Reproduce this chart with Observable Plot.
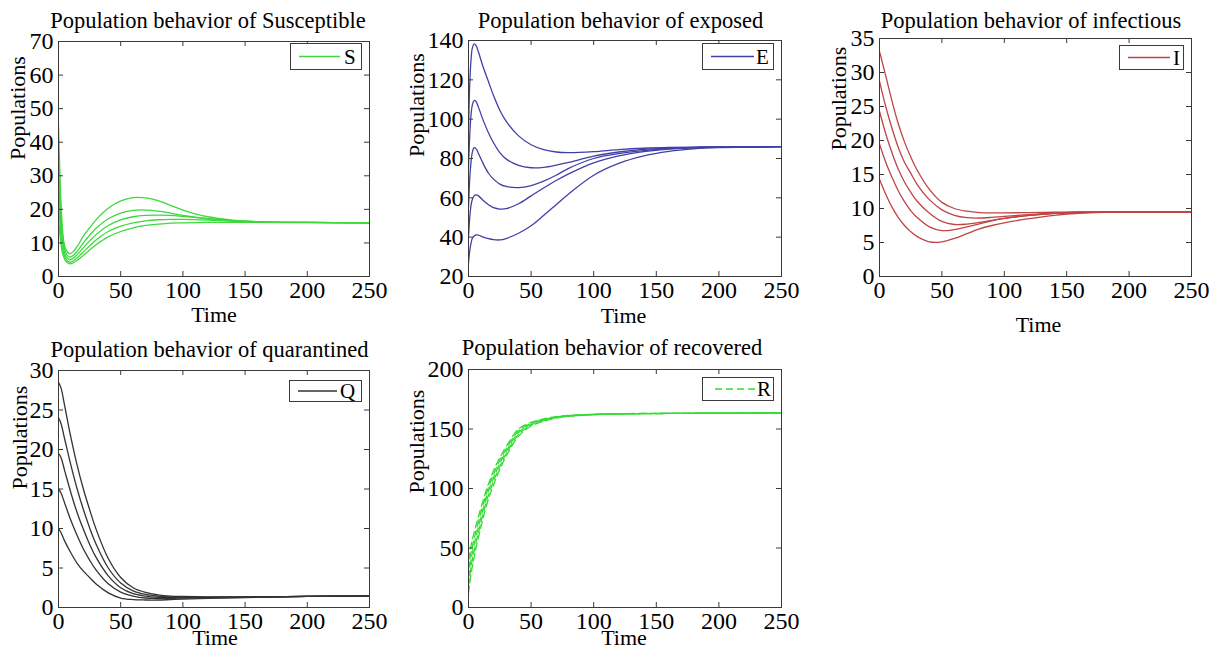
<!DOCTYPE html>
<html><head><meta charset="utf-8">
<script src="https://cdn.jsdelivr.net/npm/d3@7"></script>
<script src="https://cdn.jsdelivr.net/npm/@observablehq/plot@0.6"></script>
<style>
body{margin:0;background:#fff;}
#root{position:relative;width:1221px;height:648px;overflow:hidden;font-family:"Liberation Serif","Times New Roman",serif;}
.panel{position:absolute;}
.legend{position:absolute;}
</style></head><body><div id="root"></div>
<script>
// ---------- data ----------
const timeTicks = [0, 50, 100, 150, 200, 250];

// Susceptible
const tS = [0,1,2,4,6,9,12,16,20,25,30,40,50,60,70,80,90,100,120,140,160,200,250];
const S1 = [45,32,22,11,8,6.8,7.5,9.5,12,14.5,16.8,20.3,22.5,23.5,23.4,22.6,21.2,19.8,17.8,16.8,16.3,16.1,16];
const S2 = [38,27,19,10,7,5.8,6.3,8,10,12.3,14.3,17.2,18.9,19.7,19.8,19.5,18.9,18.2,17.2,16.6,16.3,16.1,16];
const S3 = [31,22,15,8.5,6,5.0,5.5,6.9,8.6,10.6,12.4,15.2,16.9,17.8,18.2,18.3,18.2,17.9,17.2,16.6,16.3,16.1,16];
const S4 = [24,17,12,7,5.2,4.3,4.7,5.9,7.3,9.1,10.8,13.4,15.0,16.0,16.6,16.9,17.0,17.0,16.8,16.5,16.3,16.1,16];
const S5 = [18,13,9.5,6,4.5,3.8,4.1,5.1,6.3,7.9,9.4,11.8,13.4,14.5,15.2,15.6,15.9,16.0,16.1,16.1,16.1,16.05,16];
const yTicksS = [0,10,20,30,40,50,60,70];

// Exposed
const tE = [0,1,2,3,4.5,6,8,12,16,20,25,30,40,50,60,70,80,100,120,140,160,180,200,250];
const E1 = [95,118,130,136,138.3,137.5,134,126,119,112,104.5,99,91.5,87,84.5,83.3,83,83.5,84.5,85.2,85.6,85.8,85.9,86];
const E2 = [75,92,102,107,109.5,109,106,99,93,88,83,79.8,76.5,75.3,75.5,76.6,78,81.2,83.3,84.6,85.3,85.7,85.9,86];
const E3 = [55,70,78,83,85.5,85,82.5,77,72.5,69.5,67,65.8,65.2,66.2,68.5,71.5,75,80,82.5,84,85,85.5,85.8,86];
const E4 = [40,50,56,59,61,61.5,61,58.5,56.5,55,54.3,54.5,57,61,65,68.8,72.2,77.8,81.3,83.5,84.8,85.4,85.8,86];
const E5 = [27,33,37,39.3,40.6,41.1,41,40,39.2,38.7,38.6,39.3,42,45.8,51,56.5,62,71.5,77.5,81.3,83.6,84.9,85.5,86];
const yTicksE = [20,40,60,80,100,120,140];

// Infectious
const tI = [0,5,10,15,20,25,30,40,50,60,70,80,90,100,120,140,160,200,250];
const I1 = [33.1,29.5,25.8,22.5,19.8,17.6,15.7,12.8,10.9,10,9.6,9.4,9.35,9.35,9.4,9.45,9.5,9.5,9.5];
const I2 = [28.7,25,21.8,19,16.8,15.2,13.6,11.3,9.8,9.0,8.65,8.6,8.7,8.85,9.1,9.3,9.4,9.5,9.5];
const I3 = [24.3,21,18.2,15.8,13.9,12.4,11.1,9.3,8.1,7.65,7.7,7.95,8.25,8.55,9.0,9.3,9.45,9.5,9.5];
const I4 = [19.5,16.8,14.6,12.6,11,9.7,8.7,7.3,6.75,6.9,7.3,7.75,8.2,8.55,9.0,9.3,9.45,9.5,9.5];
const I5 = [14.3,12.1,10.2,8.7,7.5,6.6,5.9,5.1,5.1,5.6,6.3,7.0,7.5,7.9,8.5,9.0,9.3,9.5,9.5];
const yTicksI = [0,5,10,15,20,25,30,35];

// Quarantined
const tQ = [0,2,5,10,15,20,25,30,40,50,60,70,80,90,100,120,150,200,250];
const Q1 = [28.5,27.8,25.5,21.5,18,15,12.4,10,6.2,3.8,2.5,1.9,1.6,1.45,1.4,1.35,1.35,1.4,1.45];
const Q2 = [24,23.3,21.3,18,15,12.4,10.1,8.1,5,3.1,2.1,1.65,1.45,1.35,1.3,1.3,1.3,1.4,1.45];
const Q3 = [19.5,19,17.3,14.5,12,9.9,8,6.4,4,2.5,1.75,1.45,1.3,1.25,1.25,1.25,1.3,1.4,1.45];
const Q4 = [15,14.5,13.2,11,9.1,7.4,6,4.8,3.0,1.95,1.45,1.2,1.15,1.15,1.2,1.25,1.3,1.4,1.45];
const Q5 = [10,9.5,8.4,6.9,5.6,4.6,3.8,3.0,1.85,1.2,1.0,0.95,0.95,1.0,1.05,1.15,1.25,1.4,1.45];
const yTicksQ = [0,5,10,15,20,25,30];

// Recovered
const tR = [0,2,5,10,15,20,25,30,40,50,60,70,80,100,120,150,200,250];
const R1 = [12,28,45,68,88,103,116,127,144,152.5,156.5,159.2,160.7,162,162.6,163,163.3,163.5];
const R2 = [18,34,50,72,91.5,106,118.5,129,145.5,153.3,157,159.5,160.8,162.1,162.6,163,163.3,163.5];
const R3 = [25,40,55,76,95,109,121,131,147,154,157.5,159.8,161,162.2,162.7,163,163.3,163.5];
const R4 = [32,46,60,80,98,112,123.5,133,148.5,154.7,158,160.1,161.2,162.3,162.8,163.1,163.3,163.5];
const R5 = [40,52,65,84,101,115,126,135,150,155.5,158.5,160.4,161.4,162.4,162.9,163.1,163.4,163.5];
const yTicksR = [0,50,100,150,200];

// ---------- layout / styling ----------
const FONT = "Liberation Serif";
const AXIS = "#3a3a3a";
const panels = [
  {letter:"S", title:"Population behavior of Susceptible", color:"#3cd83c", dash:null,
   times:tS, series:[S1,S2,S3,S4,S5], yDomain:[0,70], yTicks:yTicksS,
   left:0, top:0, width:400, height:330, mt:41, mr:31, mb:54, ml:58,
   titleDx:-6, titleDy:-14, timeDx:0, timeDy:45, popDx:-41, popDy:1,
   lg:{left:290, top:43, width:72, height:27, x1:9, x2:50, tx:54}},
  {letter:"E", title:"Population behavior of exposed", color:"#4040a8", dash:null,
   times:tE, series:[E1,E2,E3,E4,E5], yDomain:[20,140], yTicks:yTicksE,
   left:405, top:0, width:400, height:330, mt:40, mr:24, mb:54, ml:63,
   titleDx:-4.5, titleDy:-13, timeDx:-1.5, timeDy:46, popDx:-51.5, popDy:-1.5,
   lg:{left:702, top:43, width:72, height:27, x1:9, x2:52, tx:54}},
  {letter:"I", title:"Population behavior of infectious", color:"#c04444", dash:null,
   times:tI, series:[I1,I2,I3,I4,I5], yDomain:[0,35], yTicks:yTicksI,
   left:815, top:0, width:406, height:340, mt:38, mr:30, mb:64, ml:64,
   titleDx:-4.5, titleDy:-11, timeDx:3, timeDy:55, popDx:-41, popDy:-7,
   lg:{left:1119, top:45, width:65, height:25, x1:9, x2:51, tx:54}},
  {letter:"Q", title:"Population behavior of quarantined", color:"#333333", dash:null,
   times:tQ, series:[Q1,Q2,Q3,Q4,Q5], yDomain:[0,30], yTicks:yTicksQ,
   left:0, top:330, width:400, height:318, mt:40, mr:31, mb:41, ml:58,
   titleDx:-4.5, titleDy:-14, timeDx:1, timeDy:37, popDx:-39, popDy:0.5,
   lg:{left:289, top:380, width:73, height:22, x1:9, x2:48, tx:51}},
  {letter:"R", title:"Population behavior of recovered", color:"#33dd33", dash:"7,4",
   times:tR, series:[R1,R2,R3,R4,R5], yDomain:[0,200], yTicks:yTicksR,
   left:405, top:330, width:400, height:318, mt:39, mr:24, mb:41, ml:63,
   titleDx:-13, titleDy:-15, timeDx:-1, timeDy:37, popDx:-52, popDy:5,
   lg:{left:702, top:377, width:72, height:24, x1:13, x2:53, tx:55}}
];

const root = document.getElementById("root");

for (const p of panels) {
  const rows = p.series.flatMap((vals, k) => p.times.map((t, i) => ({t, v: vals[i], run: k})));
  const innerW = p.width - p.ml - p.mr;
  const innerH = p.height - p.mt - p.mb;
  const chart = Plot.plot({
    width: p.width, height: p.height,
    marginTop: p.mt, marginRight: p.mr, marginBottom: p.mb, marginLeft: p.ml,
    x: {domain: [0, 250]},
    y: {domain: p.yDomain},
    style: {fontFamily: FONT, background: "transparent", color: "#000", overflow: "visible"},
    marks: [
      Plot.line(rows, {x: "t", y: "v", z: "run", stroke: p.color, strokeWidth: 1.3,
        curve: "catmull-rom", strokeDasharray: p.dash, clip: true}),
      Plot.frame({stroke: AXIS, strokeWidth: 1}),
      Plot.tickX(timeTicks, {x: d => d, insetTop: innerH - 5, stroke: AXIS}),
      Plot.tickX(timeTicks, {x: d => d, insetBottom: innerH - 5, stroke: AXIS}),
      Plot.tickY(p.yTicks, {y: d => d, insetRight: innerW - 5, stroke: AXIS}),
      Plot.tickY(p.yTicks, {y: d => d, insetLeft: innerW - 5, stroke: AXIS}),
      Plot.axisX(timeTicks, {anchor: "bottom", tickSize: 0, tickPadding: 4, fontSize: 24, label: null}),
      Plot.axisY(p.yTicks, {anchor: "left", tickSize: 0, tickPadding: 5, fontSize: 24, label: null}),
      Plot.text([p.title], {frameAnchor: "top", dx: p.titleDx, dy: p.titleDy, lineAnchor: "bottom", fontSize: 22.5}),
      Plot.text(["Time"], {frameAnchor: "bottom", dx: p.timeDx, dy: p.timeDy, lineAnchor: "bottom", fontSize: 22}),
      Plot.text(["Populations"], {frameAnchor: "left", rotate: -90, dx: p.popDx, dy: p.popDy, fontSize: 22})
    ]
  });
  const wrap = document.createElement("div");
  wrap.className = "panel";
  wrap.style.left = p.left + "px";
  wrap.style.top = p.top + "px";
  wrap.appendChild(chart);
  root.appendChild(wrap);

  // legend box (MATLAB style)
  const lg = p.lg;
  const ns = "http://www.w3.org/2000/svg";
  const svg = document.createElementNS(ns, "svg");
  svg.setAttribute("width", lg.width);
  svg.setAttribute("height", lg.height);
  svg.setAttribute("class", "legend");
  svg.style.left = lg.left + "px";
  svg.style.top = lg.top + "px";
  const box = document.createElementNS(ns, "rect");
  box.setAttribute("x", 0.5); box.setAttribute("y", 0.5);
  box.setAttribute("width", lg.width - 1); box.setAttribute("height", lg.height - 1);
  box.setAttribute("fill", "#fff"); box.setAttribute("stroke", AXIS);
  svg.appendChild(box);
  const ln = document.createElementNS(ns, "line");
  ln.setAttribute("x1", lg.x1); ln.setAttribute("x2", lg.x2);
  ln.setAttribute("y1", lg.height / 2); ln.setAttribute("y2", lg.height / 2);
  ln.setAttribute("stroke", p.color); ln.setAttribute("stroke-width", 1.3);
  if (p.dash) ln.setAttribute("stroke-dasharray", p.dash);
  svg.appendChild(ln);
  const tx = document.createElementNS(ns, "text");
  tx.setAttribute("x", lg.tx); tx.setAttribute("y", lg.height / 2 + 7);
  tx.setAttribute("font-family", FONT); tx.setAttribute("font-size", 21);
  tx.textContent = p.letter;
  svg.appendChild(tx);
  root.appendChild(svg);
}
</script></body></html>
